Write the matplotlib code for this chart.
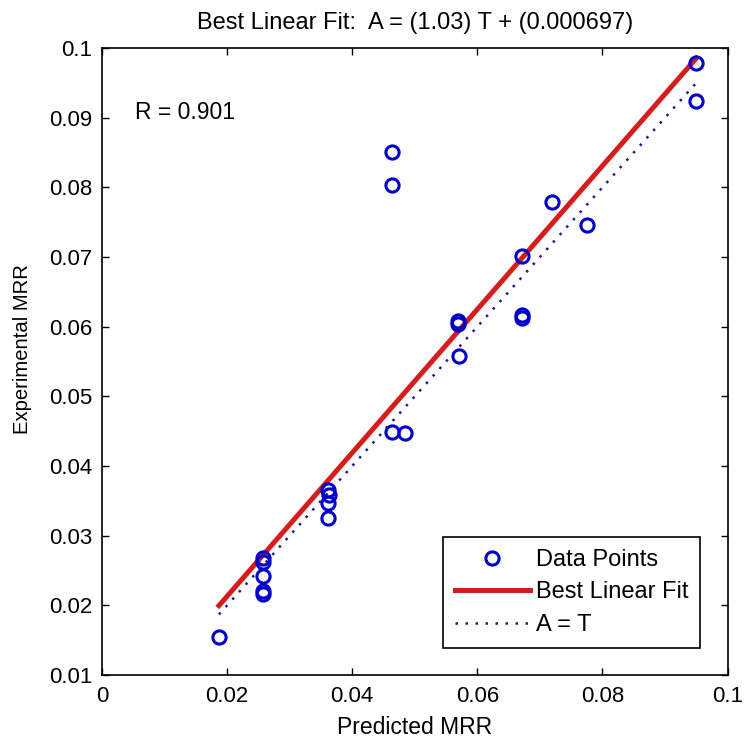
import numpy as np
import matplotlib
matplotlib.use("Agg")
import matplotlib.pyplot as plt

# predicted vs experimental MRR
predicted = [0.0187,
             0.0257, 0.0257, 0.0257, 0.0257, 0.0257,
             0.0361, 0.0363, 0.0361, 0.0361,
             0.0463, 0.0463, 0.0463, 0.0484,
             0.0569, 0.0569, 0.0570,
             0.0671, 0.0672, 0.0672,
             0.0719, 0.0775,
             0.0950, 0.0950]
experimental = [0.0155,
                0.0268, 0.0262, 0.0242, 0.0220, 0.0216,
                0.0366, 0.0358, 0.0347, 0.0325,
                0.0851, 0.0803, 0.0449, 0.0447,
                0.0608, 0.0604, 0.0558,
                0.0702, 0.0617, 0.0613,
                0.0779, 0.0746,
                0.0978, 0.0924]
fit_slope = 1.03
fit_offset = 0.000697
r_value = 0.901

xticks = [0, 0.02, 0.04, 0.06, 0.08, 0.1]
xticklabels = ["0", "0.02", "0.04", "0.06", "0.08", "0.1"]
yticks = [0.01, 0.02, 0.03, 0.04, 0.05, 0.06, 0.07, 0.08, 0.09, 0.1]
yticklabels = ["0.01", "0.02", "0.03", "0.04", "0.05", "0.06", "0.07", "0.08", "0.09", "0.1"]

plt.rcParams["font.family"] = ["Liberation Sans", "DejaVu Sans"]

fig = plt.figure(figsize=(7.44, 7.43), dpi=100)
ax = fig.add_axes([0.137, 0.0915, 0.841, 0.8439])

t = np.array([min(predicted), max(predicted)])
ax.plot(predicted, experimental, "o", ms=9.5, mfc="none", mec="#0000c8", mew=2.2,
        label="Data Points", zorder=4)
ax.plot(t, fit_slope * t + fit_offset, "-", color="#d41e1e", lw=3.6,
        label="Best Linear Fit", zorder=3)
ax.plot(t, t, color="#1c1c8c", lw=1.8, ls=(0, (1, 3)), label="A = T", zorder=2)

ax.set_xlim(0, 0.1)
ax.set_ylim(0.01, 0.1)
ax.set_xticks(xticks)
ax.set_xticklabels(xticklabels)
ax.set_yticks(yticks)
ax.set_yticklabels(yticklabels)
ax.tick_params(direction="in", length=5, width=1, top=True, right=True,
               labelsize=16, pad=8)
ax.tick_params(axis="y", pad=7)
for s in ax.spines.values():
    s.set_linewidth(1.2)

ax.set_xlabel("Predicted MRR", fontsize=16.5)
ax.set_ylabel("Experimental MRR", fontsize=14.6)
ax.xaxis.set_label_coords(0.5, -0.066)
ax.yaxis.set_label_coords(-0.112, 0.52)
ax.set_title(f"Best Linear Fit:  A = ({fit_slope:.2f}) T + ({fit_offset:g})",
             fontsize=17, pad=14)
ax.text(0.0053, 0.0908, f"R = {r_value:.3f}", fontsize=16.5, va="center")

leg = ax.legend(loc="lower right", fontsize=17, handlelength=3.2,
                handletextpad=0.25, borderaxespad=1.15, borderpad=0.5,
                fancybox=False, framealpha=1, edgecolor="black",
                labelspacing=0.45)
leg.get_frame().set_linewidth(1.2)

fig.savefig("out.png", dpi=100)
